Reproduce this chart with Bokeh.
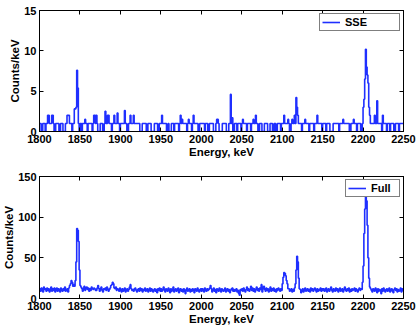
from bokeh.plotting import figure
from bokeh.layouts import column
from bokeh.models import LinearAxis, FixedTicker, Range1d
from bokeh.embed import file_html
from bokeh.resources import INLINE

# 1 keV bins, 1800-2250 keV
energy_start = 1800
bin_width = 1

sse_counts = [
    # 1800-1849
    1, 1, 0, 0, 1, 1, 1, 0, 1, 1, 2, 2, 1, 1, 1, 2, 2, 1, 0, 0, 1, 1, 1, 1, 0,
    0, 1, 1, 1, 0, 0, 0, 1, 1, 2, 2, 2, 1, 1, 1, 0, 1, 1, 2.8, 2.8, 3, 7.6, 5.4, 1, 0,
    # 1850-1899
    1, 1, 0, 1, 1, 1, 1.5, 1, 1, 0, 1, 1, 1, 1, 1, 0, 1, 2, 2, 1, 2, 1, 0, 0, 0,
    1, 1, 1, 0, 0, 1, 2.5, 1, 1, 2, 2, 1, 1, 1, 0, 1, 1, 2, 1, 1, 1, 2.3, 1, 1, 0,
    # 1900-1949
    1, 1, 1, 1, 1, 2.6, 1, 1, 0, 0, 1, 1, 2, 1, 1, 1, 2, 1, 1, 1, 1, 1, 1, 1, 0,
    0, 0, 1, 1, 1, 1, 1, 0, 0, 1, 1, 1, 1, 0, 0, 0, 0, 1, 1, 1, 1, 0, 0, 1, 1,
    # 1950-1999
    1, 2, 1, 1, 1, 1, 1, 0, 0, 1, 0, 0, 0, 1, 1, 1, 0, 1, 1, 1, 1, 1, 0, 1, 2,
    1, 1.5, 1, 1, 1, 1, 1, 0, 1, 1.5, 1, 1, 1, 0, 1, 2, 1, 1, 1, 1, 1, 0, 0, 1, 1,
    # 2000-2049
    1, 1, 1, 1, 0, 1, 1, 1, 0, 0, 1, 1, 1, 1, 1, 0, 0, 0, 1, 1.5, 1.5, 1, 0, 0, 0,
    0, 1, 1, 1, 1, 1, 0, 0, 0, 1, 1, 4.6, 1, 1.7, 0, 0, 1, 1, 1, 0, 1, 1, 1, 1, 0,
    # 2050-2099
    1, 1.5, 1, 1, 1, 1, 0, 1, 1, 1, 1, 0, 1, 1, 1.5, 1, 1, 2, 1, 1, 0, 0, 1, 1, 1,
    0, 0, 0, 1, 1, 1, 1, 0, 0, 0, 1, 1, 1, 0, 0, 1, 1, 0, 0, 1, 1, 1, 1, 0, 1,
    # 2100-2149
    1, 1, 2, 1, 1, 1, 1, 1.5, 1, 0, 0, 1, 1.5, 1, 1, 2, 1, 4.2, 3, 2, 1, 1, 1, 1, 0,
    1, 1, 1, 1.5, 1, 1, 1, 1, 0, 1, 1, 1, 1, 1, 0, 1, 1, 1, 2, 1, 1, 1, 1, 1, 0,
    # 2150-2199
    1, 1, 1, 1, 0, 1, 1, 1, 1, 0, 0, 0, 0, 1, 1, 1, 1, 1, 1, 1, 0, 1, 1, 1, 1,
    1.5, 1, 1, 1, 1, 1, 1, 1, 0, 0, 1, 1, 1, 1.5, 1, 1, 1, 0, 1, 1, 1, 1, 0, 0, 1,
    # 2200-2249
    3, 4, 6.5, 10.2, 8, 7, 6, 3, 2, 1, 1, 1, 1, 1, 2, 1, 1, 3.8, 1, 1, 1, 1, 1, 0, 2,
    1, 1, 1, 1, 0, 1, 1, 1, 0, 1, 1, 1, 1, 0, 0, 1, 1, 1, 1, 0, 1, 1, 1, 1, 1,
]

full_counts = [
    # 1800-1849
    12, 9, 13, 10, 8, 14, 11, 12, 9, 13, 10, 12, 8, 11, 14, 9, 12, 10, 13, 8, 11, 13, 9, 12, 10,
    8, 13, 11, 9, 12, 10, 14, 9, 11, 12, 8, 13, 16, 18, 22, 20, 15, 17, 15, 22, 45, 86, 84, 70, 35,
    # 1850-1899
    16, 14, 12, 9, 13, 15, 10, 12, 14, 11, 13, 9, 12, 10, 14, 12, 11, 13, 12, 10, 10, 13, 16, 12, 9,
    12, 14, 10, 8, 12, 11, 13, 10, 14, 12, 9, 11, 13, 16, 17, 20, 18, 13, 12, 14, 10, 12, 11, 9, 13,
    # 1900-1949
    10, 8, 12, 9, 11, 13, 8, 10, 12, 9, 11, 14, 17, 12, 10, 11, 9, 12, 13, 10, 8, 11, 12, 9, 13,
    10, 12, 8, 11, 10, 13, 9, 11, 12, 8, 10, 13, 9, 12, 11, 8, 10, 12, 9, 11, 7, 12, 10, 13, 9,
    # 1950-1999
    12, 9, 11, 14, 10, 8, 12, 11, 9, 13, 10, 7, 12, 9, 11, 14, 8, 10, 12, 9, 11, 13, 7, 10, 12,
    9, 11, 8, 12, 10, 6, 11, 13, 9, 10, 12, 8, 11, 9, 12, 10, 7, 12, 11, 9, 13, 10, 8, 11, 12,
    # 2000-2049
    9, 12, 10, 8, 13, 11, 9, 12, 10, 11, 13, 16, 12, 8, 10, 13, 9, 11, 7, 12, 10, 9, 13, 11, 8,
    12, 10, 9, 11, 13, 8, 10, 12, 9, 11, 7, 10, 12, 13, 9, 11, 9, 11, 12, 8, 10, 6, 4, 11, 10,
    # 2050-2099
    12, 9, 13, 10, 8, 11, 14, 10, 12, 9, 11, 15, 10, 13, 9, 12, 8, 11, 14, 10, 12, 9, 13, 11, 17,
    8, 12, 15, 11, 9, 13, 10, 12, 8, 11, 14, 9, 12, 10, 13, 9, 11, 8, 12, 10, 13, 11, 9, 12, 10,
    # 2100-2149
    18, 26, 32, 31, 28, 22, 18, 12, 12, 9, 10, 12, 8, 11, 9, 13, 18, 35, 52, 45, 25, 12, 11, 7, 10,
    12, 8, 11, 13, 9, 10, 12, 9, 11, 8, 13, 10, 12, 9, 11, 13, 10, 8, 12, 9, 11, 10, 13, 9, 12,
    # 2150-2199
    10, 12, 9, 11, 13, 8, 10, 12, 9, 11, 14, 10, 8, 12, 11, 9, 13, 10, 12, 8, 11, 13, 9, 10, 12,
    8, 11, 14, 10, 9, 12, 10, 13, 8, 11, 9, 12, 10, 11, 13, 9, 12, 10, 8, 11, 13, 10, 12, 11, 20,
    # 2200-2249
    40, 80, 110, 140, 120, 90, 50, 25, 14, 12, 10, 8, 12, 11, 9, 13, 10, 7, 12, 9, 11, 10, 6, 12, 9,
    13, 10, 8, 11, 12, 9, 11, 13, 8, 10, 12, 9, 7, 11, 13, 10, 12, 8, 11, 9, 10, 13, 8, 12, 10,
]

x_ticks = [1800, 1850, 1900, 1950, 2000, 2050, 2100, 2150, 2200, 2250]
sse_y_ticks = [0, 5, 10, 15]
full_y_ticks = [0, 50, 100, 150]

centres = [energy_start + bin_width * i + bin_width / 2 for i in range(len(sse_counts))]

FONT = "Liberation Sans"
BLUE = "#1f2fff"


def style_axis(ax, ticks, labels=True):
    ax.major_tick_in = 4
    ax.major_tick_out = 0
    ax.minor_tick_line_color = None
    ax.axis_line_color = "black"
    ax.major_tick_line_color = "black"
    ax.major_label_text_font = FONT
    ax.major_label_text_font_style = "bold"
    ax.major_label_text_font_size = "11px"
    ax.major_label_text_color = "black"
    ax.major_label_standoff = 3 if labels else 0
    if not labels:
        ax.major_label_overrides = {t: "" for t in ticks}
    ax.axis_label_text_font = FONT
    ax.axis_label_text_font_style = "bold"
    ax.axis_label_text_font_size = "11.5px"
    ax.axis_label_text_color = "black"
    ax.axis_label_standoff = 0


def make_panel(counts, ymax, yticks, label, height, border_top, border_bottom, label_width):
    p = figure(width=419, height=height,
               x_range=Range1d(1800, 2250), y_range=Range1d(0, ymax),
               output_backend="svg", toolbar_location=None,
               min_border_left=37, min_border_right=16,
               min_border_top=border_top, min_border_bottom=border_bottom)
    p.step(centres, counts, mode="center", line_color=BLUE, line_width=1.6,
           legend_label=label)
    p.xgrid.visible = False
    p.ygrid.visible = False
    p.outline_line_color = "black"
    p.outline_line_width = 1

    p.xaxis.ticker = FixedTicker(ticks=x_ticks)
    p.yaxis.ticker = FixedTicker(ticks=yticks)
    p.xaxis.axis_label = "Energy, keV"
    p.yaxis.axis_label = "Counts/keV"
    style_axis(p.xaxis[0], x_ticks)
    style_axis(p.yaxis[0], yticks)

    top = LinearAxis(ticker=FixedTicker(ticks=x_ticks))
    right = LinearAxis(ticker=FixedTicker(ticks=yticks))
    style_axis(top, x_ticks, labels=False)
    style_axis(right, yticks, labels=False)
    p.add_layout(top, "above")
    p.add_layout(right, "right")

    lg = p.legend[0]
    lg.location = "top_right"
    lg.label_text_font = FONT
    lg.label_text_font_style = "bold"
    lg.label_text_font_size = "11px"
    lg.label_text_color = "black"
    lg.border_line_color = "black"
    lg.border_line_width = 1
    lg.background_fill_alpha = 1
    lg.margin = 3
    lg.padding = 2
    lg.glyph_width = 18
    lg.glyph_height = 12
    lg.label_standoff = 5
    lg.label_height = 12
    lg.label_width = label_width
    return p


p1 = make_panel(sse_counts, 15, sse_y_ticks, "SSE", 163, 10, 32, 52)
p2 = make_panel(full_counts, 150, full_y_ticks, "Full", 164, 13, 29, 26)

layout = column(p1, p2, spacing=0)
open("out.html", "w").write(file_html(layout, INLINE))
